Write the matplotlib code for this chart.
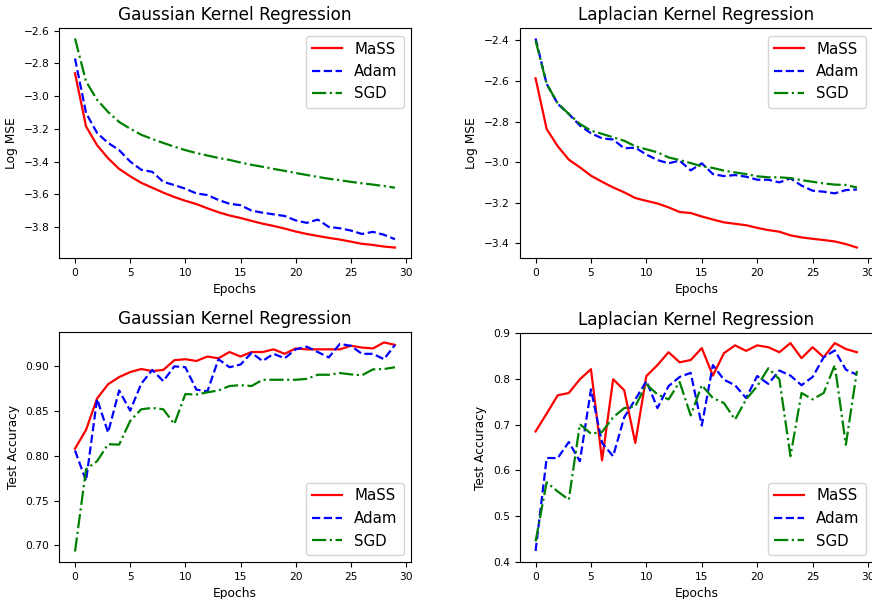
import matplotlib
matplotlib.use("Agg")
import matplotlib.pyplot as plt

epochs = list(range(30))

# Gaussian kernel, log MSE
gauss_mse_mass = [-2.86, -3.185, -3.30, -3.38, -3.445, -3.49, -3.53, -3.56, -3.59, -3.617,
                  -3.64, -3.66, -3.686, -3.71, -3.73, -3.745, -3.763, -3.78, -3.794, -3.81,
                  -3.828, -3.843, -3.855, -3.867, -3.877, -3.89, -3.903, -3.91, -3.92, -3.926]
gauss_mse_adam = [-2.77, -3.103, -3.225, -3.286, -3.33, -3.40, -3.45, -3.463, -3.524, -3.544,
                  -3.566, -3.595, -3.605, -3.635, -3.658, -3.667, -3.70, -3.713, -3.723, -3.733,
                  -3.76, -3.775, -3.755, -3.80, -3.808, -3.822, -3.843, -3.83, -3.848, -3.875]
gauss_mse_sgd = [-2.647, -2.91, -3.022, -3.097, -3.158, -3.199, -3.236, -3.262, -3.286, -3.309,
                 -3.33, -3.348, -3.363, -3.378, -3.39, -3.406, -3.42, -3.432, -3.445, -3.457,
                 -3.47, -3.482, -3.494, -3.505, -3.514, -3.524, -3.533, -3.541, -3.55, -3.56]

# Laplacian kernel, log MSE
lap_mse_mass = [-2.586, -2.836, -2.921, -2.987, -3.025, -3.066, -3.096, -3.124, -3.148, -3.176,
                -3.19, -3.203, -3.222, -3.245, -3.25, -3.267, -3.282, -3.296, -3.303, -3.31,
                -3.323, -3.334, -3.342, -3.36, -3.37, -3.377, -3.383, -3.39, -3.403, -3.42]
lap_mse_adam = [-2.39, -2.614, -2.712, -2.762, -2.819, -2.857, -2.882, -2.888, -2.931, -2.928,
                -2.962, -2.989, -3.005, -2.992, -3.04, -3.005, -3.058, -3.068, -3.063, -3.071,
                -3.086, -3.086, -3.099, -3.079, -3.115, -3.14, -3.145, -3.153, -3.137, -3.134]
lap_mse_sgd = [-2.40, -2.614, -2.709, -2.762, -2.811, -2.844, -2.86, -2.877, -2.894, -2.921,
               -2.936, -2.951, -2.976, -2.989, -3.004, -3.02, -3.028, -3.041, -3.05, -3.058,
               -3.069, -3.074, -3.074, -3.078, -3.088, -3.096, -3.104, -3.11, -3.112, -3.124]

# Gaussian kernel, test accuracy
gauss_acc_mass = [0.808, 0.829, 0.864, 0.880, 0.888, 0.8936, 0.897, 0.8947, 0.896, 0.9068,
                  0.908, 0.906, 0.911, 0.909, 0.916, 0.911, 0.916, 0.916, 0.919, 0.914,
                  0.920, 0.919, 0.919, 0.919, 0.919, 0.923, 0.921, 0.920, 0.9267, 0.924]
gauss_acc_adam = [0.806, 0.772, 0.8636, 0.826, 0.873, 0.8505, 0.8805, 0.896, 0.8835, 0.900,
                  0.899, 0.874, 0.872, 0.908, 0.899, 0.902, 0.915, 0.906, 0.914, 0.909,
                  0.919, 0.922, 0.916, 0.910, 0.925, 0.923, 0.914, 0.914, 0.908, 0.924]
gauss_acc_sgd = [0.693, 0.785, 0.794, 0.813, 0.8125, 0.839, 0.852, 0.8535, 0.852, 0.8355,
                 0.869, 0.8685, 0.871, 0.873, 0.878, 0.879, 0.878, 0.885, 0.885, 0.885,
                 0.885, 0.886, 0.8906, 0.8906, 0.8925, 0.891, 0.890, 0.8966, 0.897, 0.899]

# Laplacian kernel, test accuracy
lap_acc_mass = [0.685, 0.724, 0.764, 0.769, 0.799, 0.821, 0.622, 0.799, 0.775, 0.66,
                0.806, 0.830, 0.858, 0.836, 0.841, 0.867, 0.807, 0.856, 0.873, 0.861,
                0.873, 0.869, 0.858, 0.878, 0.845, 0.869, 0.847, 0.878, 0.865, 0.858]
lap_acc_adam = [0.424, 0.627, 0.627, 0.662, 0.620, 0.777, 0.66, 0.631, 0.716, 0.755,
                0.795, 0.736, 0.784, 0.804, 0.813, 0.698, 0.83, 0.798, 0.786, 0.758,
                0.806, 0.789, 0.818, 0.807, 0.786, 0.804, 0.847, 0.862, 0.82, 0.809]
lap_acc_sgd = [0.445, 0.574, 0.554, 0.536, 0.701, 0.68, 0.684, 0.716, 0.736, 0.74,
               0.788, 0.766, 0.755, 0.793, 0.72, 0.786, 0.758, 0.747, 0.711, 0.755,
               0.784, 0.823, 0.799, 0.631, 0.769, 0.755, 0.769, 0.83, 0.656, 0.817]

fig = plt.figure(figsize=(8.72, 5.99), dpi=100)
W, H = 872.0, 599.0
# axes boxes in pixels (left, top, right, bottom); right column runs off the edge
boxes = [
    (59, 28, 411, 258),
    (519.5, 28, 873, 258),
    (59, 332, 411, 562),
    (519.5, 333, 873, 562),
]
axes = [fig.add_axes([l / W, 1 - b / H, (r - l) / W, (b - t) / H]) for l, t, r, b in boxes]

panels = [
    ("Gaussian Kernel Regression", "Log MSE", gauss_mse_mass, gauss_mse_adam, gauss_mse_sgd, "upper right"),
    ("Laplacian Kernel Regression", "Log MSE", lap_mse_mass, lap_mse_adam, lap_mse_sgd, "upper right"),
    ("Gaussian Kernel Regression", "Test Accuracy", gauss_acc_mass, gauss_acc_adam, gauss_acc_sgd, "lower right"),
    ("Laplacian Kernel Regression", "Test Accuracy", lap_acc_mass, lap_acc_adam, lap_acc_sgd, "lower right"),
]

lw = 1.6
for ax, (title, ylabel, mass, adam, sgd, loc) in zip(axes, panels):
    ax.plot(epochs, mass, "r-", lw=lw, label="MaSS")
    ax.plot(epochs, adam, "b--", lw=lw, label="Adam")
    ax.plot(epochs, sgd, "g-.", lw=lw, label="SGD")
    ax.set_title(title, fontsize=12.2)
    ax.set_xlabel("Epochs", fontsize=8.8)
    ax.set_ylabel(ylabel, fontsize=8.8)
    ax.tick_params(labelsize=7.7)
    ax.set_xticks([0, 5, 10, 15, 20, 25, 30])
    ax.legend(loc=loc, fontsize=10.8)

axes[3].set_ylim(0.4, 0.9)

fig.savefig("out.png", dpi=100)
